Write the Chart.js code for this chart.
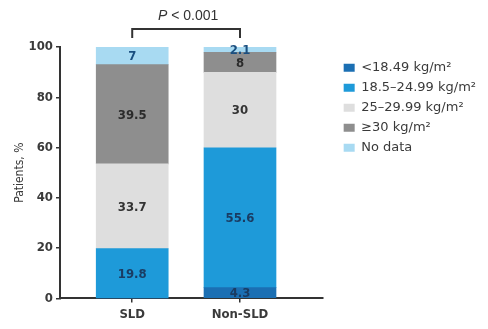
<!DOCTYPE html>
<html>
<head>
<meta charset="utf-8">
<style>
  html, body { margin: 0; padding: 0; background: #ffffff; }
  #wrap { width: 488px; height: 329px; position: relative; }
</style>
<script src="https://cdn.jsdelivr.net/npm/chart.js@4.4.1/dist/chart.umd.min.js"></script>
</head>
<body>
<div id="wrap"><canvas id="chart" width="488" height="329"></canvas></div>
<script>
// Groups on the x axis
const categories = ['SLD', 'Non-SLD'];
// BMI class shares, % of patients (bottom of stack first)
const seriesNames = ['<18.49 kg/m²', '18.5–24.99 kg/m²', '25–29.99 kg/m²', '≥30 kg/m²', 'No data'];
const underweight = [0, 4.3];
const normalWeight = [19.8, 55.6];
const overweight = [33.7, 30];
const obese = [39.5, 8];
const noData = [7, 2.1];
const yTicks = [0, 20, 40, 60, 80, 100];
const pValueText = '< 0.001';

const fillColors = ['#1b6fb3', '#1e9ad9', '#dedede', '#8e8e8e', '#a8daf2'];
const labelColors = ['#1a3c63', '#1a3c63', '#333333', '#2b2b2b', '#1a4f80'];
const seriesValues = [underweight, normalWeight, overweight, obese, noData];

const condensed = "'DejaVu Sans Condensed', 'Liberation Sans Narrow', 'Roboto', sans-serif";
const legendFont = "'DejaVu Sans', 'Noto Sans', sans-serif";

const datasets = seriesValues.map((vals, i) => ({
  label: seriesNames[i],
  data: vals.map((v, j) => ({ x: j + 1, y: v })),
  backgroundColor: fillColors[i],
  borderWidth: 0,
  barThickness: 72,
  valueColor: labelColors[i]
}));

// Writes each segment's value in the middle of the segment
const segmentLabels = {
  id: 'segmentLabels',
  afterDatasetsDraw(chart) {
    const ctx = chart.ctx;
    ctx.save();
    ctx.font = "600 13px " + condensed;
    ctx.textAlign = 'center';
    ctx.textBaseline = 'middle';
    chart.data.datasets.forEach((ds, i) => {
      const meta = chart.getDatasetMeta(i);
      meta.data.forEach((bar, j) => {
        const v = ds.data[j].y;
        if (!v) return;
        ctx.fillStyle = ds.valueColor;
        ctx.fillText(String(v), bar.x, (bar.y + bar.base) / 2 + 1);
      });
    });
    ctx.restore();
  }
};

// Significance bracket joining the two bars
const pBracket = {
  id: 'pBracket',
  afterDraw(chart) {
    const xs = chart.scales.x;
    const x1 = xs.getPixelForValue(1);
    const x2 = xs.getPixelForValue(2);
    const top = chart.chartArea.top;
    const yLine = top - 18;
    const ctx = chart.ctx;
    ctx.save();
    ctx.strokeStyle = '#333333';
    ctx.lineWidth = 2;
    ctx.beginPath();
    ctx.moveTo(x1, top - 9);
    ctx.lineTo(x1, yLine);
    ctx.lineTo(x2, yLine);
    ctx.lineTo(x2, top - 9);
    ctx.stroke();
    ctx.fillStyle = '#333333';
    ctx.textBaseline = 'middle';
    const italic = "italic 14px 'Liberation Sans', sans-serif";
    const regular = "14px 'Liberation Sans', sans-serif";
    ctx.font = italic;
    const wP = ctx.measureText('P ').width;
    ctx.font = regular;
    const wRest = ctx.measureText(pValueText).width;
    const start = (x1 + x2) / 2 - (wP + wRest) / 2 + 2;
    ctx.textAlign = 'left';
    ctx.font = italic;
    ctx.fillText('P ', start, yLine - 13);
    ctx.font = regular;
    ctx.fillText(pValueText, start + wP, yLine - 13);
    ctx.restore();
  }
};

new Chart(document.getElementById('chart'), {
  type: 'bar',
  data: { datasets },
  plugins: [segmentLabels, pBracket],
  options: {
    responsive: false,
    animation: false,
    layout: { padding: { top: 47, bottom: 3, left: 0, right: 2 } },
    scales: {
      x: {
        type: 'linear',
        stacked: true,
        offset: false,
        min: 0.33,
        max: 2.767,
        afterBuildTicks: (s) => { s.ticks = categories.map((c, i) => ({ value: i + 1 })); },
        ticks: {
          callback: (v) => categories[v - 1] || '',
          color: '#3a3a3a',
          font: { family: condensed, size: 13, weight: '600' },
          padding: 4
        },
        grid: { display: true, offset: false, drawOnChartArea: false, tickLength: 4, color: '#333333', lineWidth: 1.5 },
        border: { display: true, color: '#333333', width: 2 }
      },
      y: {
        stacked: true,
        min: 0,
        max: 100,
        afterBuildTicks: (s) => { s.ticks = yTicks.map(v => ({ value: v })); },
        afterFit: (s) => { s.width = 60; },
        ticks: {
          color: '#3a3a3a',
          font: { family: condensed, size: 13, weight: '600' },
          padding: 3
        },
        grid: { display: true, drawOnChartArea: false, tickLength: 4, color: '#333333', lineWidth: 1.5 },
        border: { display: true, color: '#333333', width: 2 },
        title: {
          display: true,
          text: 'Patients, %',
          color: '#3a3a3a',
          font: { family: condensed, size: 12 },
          padding: { top: 13, bottom: 0 }
        }
      },
      gap: {
        type: 'linear',
        position: 'right',
        display: true,
        ticks: { display: false },
        grid: { display: false },
        border: { display: false },
        afterFit: (s) => { s.width = 14; }
      }
    },
    plugins: {
      legend: {
        position: 'right',
        align: 'start',
        maxWidth: 170,
        title: { display: true, text: '', font: { size: 1 }, padding: 3 },
        labels: {
          boxWidth: 11,
          boxHeight: 8,
          padding: 7,
          color: '#3a3a3a',
          font: { family: legendFont, size: 13 }
        }
      },
      tooltip: { enabled: false }
    }
  }
});
</script>
</body>
</html>
